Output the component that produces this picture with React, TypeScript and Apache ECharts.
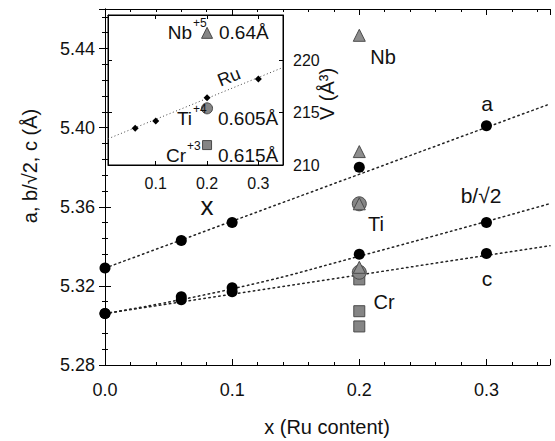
import React, { useEffect, useRef } from "react";
import * as echarts from "echarts";

// Main panel: lattice parameters vs Ru content
const xVals = [0, 0.06, 0.1, 0.2, 0.3];
const aVals = [5.329, 5.343, 5.352, 5.38, 5.401];
const bVals = [5.306, 5.3145, 5.319, 5.336, 5.352];
const cVals = [5.306, 5.313, 5.317, 5.3276, 5.3364];

// dotted guide curves
const aFitX = [0, 0.35];
const aFitY = [5.329, 5.412];
const bFitX = [0, 0.1, 0.2, 0.35];
const bFitY = [5.306, 5.3185, 5.335, 5.3616];
const cFitX = [0, 0.35];
const cFitY = [5.306, 5.3403];

// dopant reference points at x = 0.2
const dopX = 0.2;
const triY = [5.4467, 5.3879, 5.3615, 5.3294];
const circY = [5.3615, 5.3269];
const sqY = [5.3233, 5.3072, 5.2995];

const mainXTicks = ["0.0", "0.1", "0.2", "0.3"];
const mainYTicks = ["5.28", "5.32", "5.36", "5.40", "5.44"];

// Inset: cell volume
const insetX = [0.06, 0.1, 0.2, 0.3];
const insetV = [213.5, 214.2, 216.4, 218.2];
const insetFitX = [0.007, 0.348];
const insetFitV = [212.5, 219.3];
const insetNbV = 222.6;
const insetTiV = 215.4;
const insetCrV = 211.9;
const insetXTicks = [0.1, 0.2, 0.3];
const insetYTicks = [210, 215, 220];

const FONT = "Liberation Sans, Arial, Helvetica, sans-serif";
const GREY = "#858585";
const GREY_EDGE = "#4a4a4a";

export default function App() {
  const ref = useRef<HTMLDivElement>(null);
  useEffect(() => {
    if (!ref.current) return;
    const chart = echarts.init(ref.current, null, { renderer: "svg" });
    const pairs = (xs: number[], ys: number[]) => xs.map((x, i) => [x, ys[i]]);
    const axisCommon = {
      axisLine: { show: true, lineStyle: { color: "#000", width: 1 } },
      splitLine: { show: false },
    };
    const mainX = {
      type: "value",
      min: 0,
      max: 0.35,
      interval: 0.1,
      gridIndex: 0,
      ...axisCommon,
      axisTick: { show: true, inside: true, length: 6, lineStyle: { color: "#000" } },
      minorTick: { show: true, splitNumber: 5, length: 3, lineStyle: { color: "#000" } },
    };
    const mainY = {
      type: "value",
      min: 5.28,
      max: 5.46,
      interval: 0.04,
      gridIndex: 0,
      ...axisCommon,
      axisTick: { show: true, inside: true, length: 6, lineStyle: { color: "#000" } },
      minorTick: { show: true, splitNumber: 5, length: 3, lineStyle: { color: "#000" } },
    };
    const fitStyle = { color: "#222", width: 1.5, type: [1.5, 3.5] as any, cap: "round" };
    const black = { color: "#000", opacity: 1 };
    const grey = { color: GREY, borderColor: GREY_EDGE, borderWidth: 1, opacity: 1 };

    const option: any = {
      animation: false,
      backgroundColor: "#fff",
      grid: [
        { left: 105, top: 9, right: 5, bottom: 76, show: false },
        {
          left: 108,
          top: 15,
          width: 175,
          height: 150,
          show: true,
          backgroundColor: "#fff",
          borderColor: "#000",
          borderWidth: 1,
          z: 5,
        },
      ],
      xAxis: [
        {
          ...mainX,
          position: "bottom",
          axisLabel: {
            show: true,
            showMaxLabel: false,
            margin: 16,
            fontSize: 18,
            fontFamily: FONT,
            color: "#111",
            formatter: (v: number) => mainXTicks[Math.round(v * 10)] ?? "",
          },
        },
        { ...mainX, position: "top", axisLabel: { show: false } },
        {
          type: "value",
          gridIndex: 1,
          min: insetFitX[0],
          max: insetFitX[1],
          position: "bottom",
          ...axisCommon,
          z: 6,
          axisTick: { show: true, inside: true, length: 4, customValues: insetXTicks, lineStyle: { color: "#000" } },
          axisLabel: {
            show: true,
            customValues: insetXTicks,
            margin: 10,
            fontSize: 16,
            fontFamily: FONT,
            color: "#111",
            formatter: (v: number) => v.toFixed(1),
          },
        },
        {
          type: "value",
          gridIndex: 1,
          min: insetFitX[0],
          max: insetFitX[1],
          position: "top",
          ...axisCommon,
          z: 6,
          axisTick: { show: true, inside: true, length: 4, customValues: insetXTicks, lineStyle: { color: "#000" } },
          axisLabel: { show: false },
        },
      ],
      yAxis: [
        {
          ...mainY,
          position: "left",
          axisLabel: {
            show: true,
            showMaxLabel: false,
            margin: 10,
            fontSize: 18,
            fontFamily: FONT,
            color: "#111",
            formatter: (v: number) => mainYTicks[Math.round((v - 5.28) / 0.04)] ?? "",
          },
        },
        { ...mainY, position: "right", axisLabel: { show: false } },
        {
          type: "value",
          gridIndex: 1,
          min: 210,
          max: 224.3,
          position: "right",
          ...axisCommon,
          z: 6,
          axisTick: { show: true, inside: true, length: 4, customValues: insetYTicks, lineStyle: { color: "#000" } },
          axisLabel: {
            show: true,
            customValues: insetYTicks,
            margin: 10,
            fontSize: 16,
            fontFamily: FONT,
            color: "#111",
          },
        },
        {
          type: "value",
          gridIndex: 1,
          min: 210,
          max: 224.3,
          position: "left",
          ...axisCommon,
          z: 6,
          axisTick: { show: true, inside: true, length: 4, customValues: insetYTicks, lineStyle: { color: "#000" } },
          axisLabel: { show: false },
        },
      ],
      series: [
        { type: "line", xAxisIndex: 0, yAxisIndex: 0, data: pairs(aFitX, aFitY), symbol: "none", lineStyle: fitStyle, z: 2 },
        { type: "line", xAxisIndex: 0, yAxisIndex: 0, data: pairs(bFitX, bFitY), symbol: "none", smooth: 0.5, lineStyle: fitStyle, z: 2 },
        { type: "line", xAxisIndex: 0, yAxisIndex: 0, data: pairs(cFitX, cFitY), symbol: "none", lineStyle: fitStyle, z: 2 },
        { type: "scatter", xAxisIndex: 0, yAxisIndex: 0, data: pairs(xVals, aVals), symbol: "circle", symbolSize: 11, itemStyle: black, z: 3 },
        { type: "scatter", xAxisIndex: 0, yAxisIndex: 0, data: pairs(xVals, bVals), symbol: "circle", symbolSize: 11, itemStyle: black, z: 3 },
        { type: "scatter", xAxisIndex: 0, yAxisIndex: 0, data: pairs(xVals, cVals), symbol: "circle", symbolSize: 11, itemStyle: black, z: 3 },
        {
          type: "scatter",
          xAxisIndex: 0,
          yAxisIndex: 0,
          data: sqY.map((y) => [dopX, y]),
          symbol: "rect",
          symbolSize: 11,
          itemStyle: grey,
          z: 4,
        },
        {
          type: "scatter",
          xAxisIndex: 0,
          yAxisIndex: 0,
          data: circY.map((y) => [dopX, y]),
          symbol: "circle",
          symbolSize: 14,
          itemStyle: grey,
          z: 4,
        },
        {
          type: "scatter",
          xAxisIndex: 0,
          yAxisIndex: 0,
          data: triY.map((y) => [dopX, y]),
          symbol: "triangle",
          symbolSize: 12,
          itemStyle: { ...grey, color: "#8e8e8e" },
          z: 4,
        },
        // inset
        {
          type: "line",
          xAxisIndex: 2,
          yAxisIndex: 2,
          data: pairs(insetFitX, insetFitV),
          symbol: "none",
          lineStyle: { color: "#444", width: 1, type: [1, 2.5] as any },
          z: 7,
        },
        { type: "scatter", xAxisIndex: 2, yAxisIndex: 2, data: pairs(insetX, insetV), symbol: "diamond", symbolSize: 7, itemStyle: black, z: 8 },
        { type: "scatter", xAxisIndex: 2, yAxisIndex: 2, data: [[dopX, insetNbV]], symbol: "triangle", symbolSize: 11, itemStyle: grey, z: 8 },
        { type: "scatter", xAxisIndex: 2, yAxisIndex: 2, data: [[dopX, insetTiV]], symbol: "circle", symbolSize: 11, itemStyle: grey, z: 8 },
        { type: "scatter", xAxisIndex: 2, yAxisIndex: 2, data: [[dopX, insetCrV]], symbol: "rect", symbolSize: 9, itemStyle: grey, z: 8 },
      ],
      graphic: [
        // axis titles
        { type: "text", x: 30, y: 166, rotation: Math.PI / 2, z: 20, style: { text: "a, b/√2, c (Å)", fontSize: 20, fontFamily: FONT, fill: "#111", align: "center", verticalAlign: "middle" } },
        { type: "text", x: 327, y: 427, z: 20, style: { text: "x (Ru content)", fontSize: 20, fontFamily: FONT, fill: "#111", align: "center", verticalAlign: "middle" } },
        // series labels
        { type: "text", x: 487, y: 103, z: 20, style: { text: "a", fontSize: 21, fontFamily: FONT, fill: "#111", align: "center", verticalAlign: "middle" } },
        { type: "text", x: 481, y: 195, z: 20, style: { text: "b/√2", fontSize: 21, fontFamily: FONT, fill: "#111", align: "center", verticalAlign: "middle" } },
        { type: "text", x: 487, y: 278, z: 20, style: { text: "c", fontSize: 21, fontFamily: FONT, fill: "#111", align: "center", verticalAlign: "middle" } },
        { type: "text", x: 383, y: 57, z: 20, style: { text: "Nb", fontSize: 20, fontFamily: FONT, fill: "#111", align: "center", verticalAlign: "middle" } },
        { type: "text", x: 376, y: 224, z: 20, style: { text: "Ti", fontSize: 20, fontFamily: FONT, fill: "#111", align: "center", verticalAlign: "middle" } },
        { type: "text", x: 384, y: 302, z: 20, style: { text: "Cr", fontSize: 20, fontFamily: FONT, fill: "#111", align: "center", verticalAlign: "middle" } },
        // inset annotations
        { type: "text", x: 192, y: 32, z: 20, style: { text: "Nb", fontSize: 19, fontFamily: FONT, fill: "#111", align: "right", verticalAlign: "middle" } },
        { type: "text", x: 193, y: 23, z: 20, style: { text: "+5", fontSize: 12, fontFamily: FONT, fill: "#111", align: "left", verticalAlign: "middle" } },
        { type: "text", x: 219, y: 32, z: 20, style: { text: "0.64Å", fontSize: 19, fontFamily: FONT, fill: "#111", align: "left", verticalAlign: "middle" } },
        { type: "text", x: 229, y: 77, rotation: 0.38, z: 20, style: { text: "Ru", fontSize: 18, fontFamily: FONT, fill: "#111", align: "center", verticalAlign: "middle" } },
        { type: "text", x: 192, y: 118, z: 20, style: { text: "Ti", fontSize: 19, fontFamily: FONT, fill: "#111", align: "right", verticalAlign: "middle" } },
        { type: "text", x: 193, y: 109, z: 20, style: { text: "+4", fontSize: 12, fontFamily: FONT, fill: "#111", align: "left", verticalAlign: "middle" } },
        { type: "text", x: 218, y: 118, z: 20, style: { text: "0.605Å", fontSize: 19, fontFamily: FONT, fill: "#111", align: "left", verticalAlign: "middle" } },
        { type: "text", x: 186, y: 155, z: 20, style: { text: "Cr", fontSize: 19, fontFamily: FONT, fill: "#111", align: "right", verticalAlign: "middle" } },
        { type: "text", x: 187, y: 146, z: 20, style: { text: "+3", fontSize: 12, fontFamily: FONT, fill: "#111", align: "left", verticalAlign: "middle" } },
        { type: "text", x: 218, y: 155, z: 20, style: { text: "0.615Å", fontSize: 19, fontFamily: FONT, fill: "#111", align: "left", verticalAlign: "middle" } },
        { type: "text", x: 207, y: 206, z: 20, style: { text: "x", fontSize: 26, fontFamily: FONT, fill: "#111", align: "center", verticalAlign: "middle" } },
        { type: "text", x: 327, y: 94, rotation: Math.PI / 2, z: 20, style: { text: "V (Å³)", fontSize: 20, fontFamily: FONT, fill: "#111", align: "center", verticalAlign: "middle" } },
      ],
    };
    chart.setOption(option);
    return () => chart.dispose();
  }, []);
  return <div ref={ref} style={{ position: "fixed", left: 0, top: 0, width: 555, height: 441 }} />;
}
